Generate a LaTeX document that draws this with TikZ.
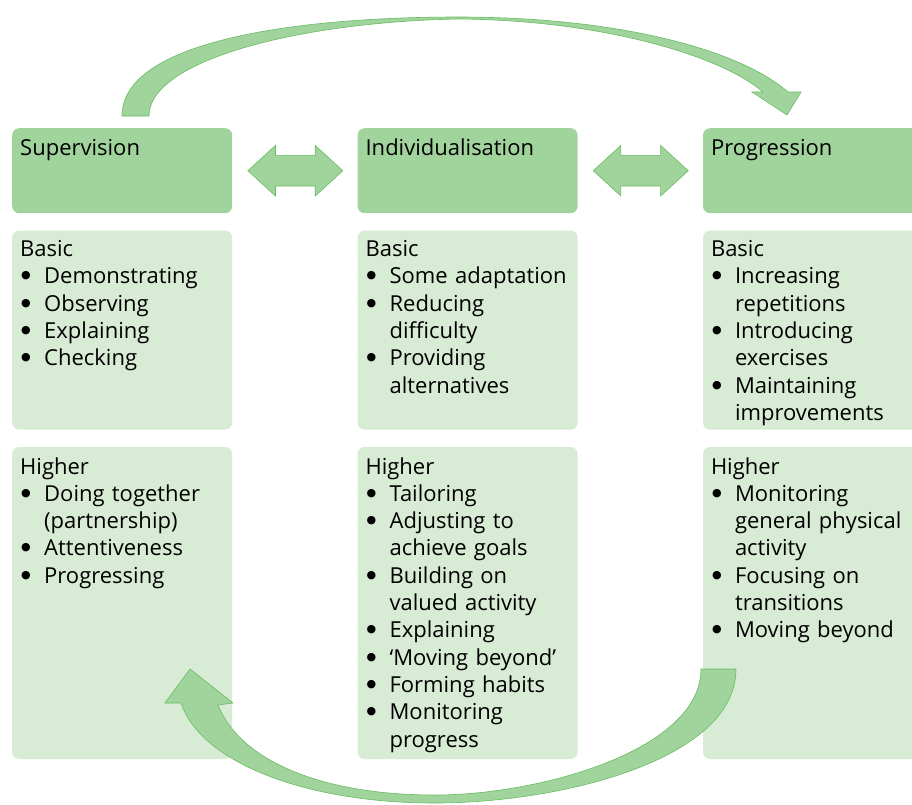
\documentclass[tikz,border=0pt]{standalone}
\usepackage{fontspec}
\setmainfont{Open Sans}
\newfontfamily\symfont{DejaVu Sans}
\usetikzlibrary{positioning, shapes.arrows}
\definecolor{headgreen}{RGB}{161,211,156}
\definecolor{boxgreen}{RGB}{216,235,212}
\definecolor{arrowline}{RGB}{104,189,97}
\newcommand{\bult}{\makebox[24pt][l]{\hspace*{1pt}\raisebox{5pt}{\symfont\fontsize{11pt}{11pt}\selectfont ●}}} % bullet with hanging indent
\newcommand{\cont}{\hspace*{24pt}} % continuation line of a bullet
\tikzset{
    box/.style={ % Common look of all boxes
        rounded corners=7pt,
        text width=204pt,
        inner xsep=8pt, inner ysep=0pt,
        align=left,
        font=\fontsize{22pt}{27.3pt}\selectfont
    },
    head box/.style={box, fill=headgreen, text height=27pt, text depth=58pt},
    basic box/.style={box, fill=boxgreen, text height=26pt, text depth=173pt},
    higher box/.style={box, fill=boxgreen, text height=27pt, text depth=285pt},
    swap arrow/.style={ % Two-way arrows between the headings
        double arrow,
        draw=arrowline, fill=headgreen, semithick,
        minimum height=95pt,
        double arrow head extend=10pt,
        double arrow tip angle=85,
        inner xsep=0pt, inner ysep=15pt
    },
    loop arrow/.style={draw=arrowline, fill=headgreen, semithick, line join=miter}
}
\begin{document}
\begin{tikzpicture}[x=1pt, y=-1pt]
    \useasboundingbox (0,0) rectangle (912,804);
    % headings
    \node[head box, anchor=north west] (sup) at (12,128) {Supervision};
    \node[head box, right=125pt of sup] (ind) {Individualisation};
    \node[head box, right=125pt of ind] (prog) {Progression};
    % basic level
    \node[basic box, below=17pt of sup] (supb) {Basic\\
        \bult Demonstrating\\ \bult Observing\\ \bult Explaining\\ \bult Checking};
    \node[basic box, below=17pt of ind] (indb) {Basic\\
        \bult Some adaptation\\ \bult Reducing\\ \cont difficulty\\
        \bult Providing\\ \cont alternatives};
    \node[basic box, below=17pt of prog] (progb) {Basic\\
        \bult Increasing\\ \cont repetitions\\ \bult Introducing\\ \cont exercises\\
        \bult Maintaining\\ \cont improvements};
    % higher level
    \node[higher box, below=17pt of supb] (suph) {Higher\\
        \bult Doing together\\ \cont (partnership)\\ \bult Attentiveness\\ \bult Progressing};
    \node[higher box, below=17pt of indb] (indh) {Higher\\
        \bult Tailoring\\ \bult Adjusting to\\ \cont achieve goals\\
        \bult Building on\\ \cont valued activity\\ \bult Explaining\\
        \bult ‘Moving beyond’\\ \bult Forming habits\\ \bult Monitoring\\ \cont progress};
    \node[higher box, below=17pt of progb] (progh) {Higher\\
        \bult Monitoring\\ \cont general physical\\ \cont activity\\
        \bult Focusing on\\ \cont transitions\\ \bult Moving beyond};
    % two-way arrows
    \node[swap arrow, right=15pt of sup] (sw1) {};
    \node[swap arrow, right=15pt of ind] (sw2) {};
    % curved arrows
    \path[loop arrow] (122,116) .. controls (122,40) and (300,17) .. (458,17)
        .. controls (620,17) and (740,50) .. (788,92) -- (801,92) -- (787,115)
        -- (752,92) -- (763,92) .. controls (720,55) and (600,20) .. (458,19)
        .. controls (300,22) and (149,60) .. (149,116) -- cycle;
    \path[loop arrow] (736,669) .. controls (736,760) and (560,803) .. (435,803)
        .. controls (300,803) and (200,760) .. (181,703) -- (165,703) -- (190,669)
        -- (233,703) -- (218,705) .. controls (240,760) and (320,795) .. (435,795)
        .. controls (540,795) and (701,750) .. (701,669) -- cycle;
\end{tikzpicture}
\end{document}
